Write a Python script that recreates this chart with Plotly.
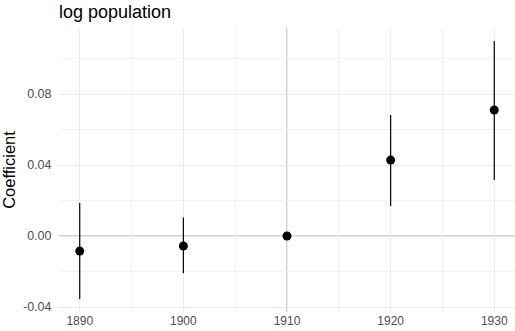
import plotly.graph_objects as go

years = [1890, 1900, 1910, 1920, 1930]
coef = [-0.0085, -0.0056, 0.0, 0.0428, 0.0710]
ci_low = [-0.0355, -0.0210, 0.0, 0.0169, 0.0315]
ci_high = [0.0186, 0.0105, 0.0, 0.0682, 0.1099]

x_ticks = [1890, 1900, 1910, 1920, 1930]
y_ticks = [-0.04, 0.00, 0.04, 0.08]
y_labels = ["-0.04", "0.00", "0.04", "0.08"]

font = "Liberation Sans"
grid = "#ebebeb"

fig = go.Figure()

fig.add_shape(type="line", xref="x", yref="paper", x0=1910, x1=1910, y0=0, y1=1,
              line=dict(color="#c2c2c2", width=1.5), layer="below")
fig.add_shape(type="line", xref="paper", yref="y", x0=0, x1=1, y0=0, y1=0,
              line=dict(color="#c2c2c2", width=1.5), layer="below")

fig.add_trace(go.Scatter(
    x=years, y=coef, mode="markers",
    marker=dict(color="black", size=9),
    error_y=dict(type="data", symmetric=False,
                 array=[h - c for h, c in zip(ci_high, coef)],
                 arrayminus=[c - l for c, l in zip(coef, ci_low)],
                 color="black", thickness=1.2, width=0),
    showlegend=False,
))

fig.update_layout(
    width=515, height=331,
    margin=dict(l=59, r=0, t=28, b=19, autoexpand=False),
    plot_bgcolor="white", paper_bgcolor="white",
    title=dict(text="log population", x=59/515, xanchor="left", y=1 - 12/331, yanchor="middle",
               font=dict(family=font, size=18, color="black")),
    font=dict(family=font, color="#4d4d4d"),
)
fig.update_xaxes(
    range=[1888, 1932], tickvals=x_ticks, ticktext=[str(v) for v in x_ticks],
    showgrid=True, gridcolor=grid, gridwidth=1, zeroline=False, showline=False,
    ticks="", ticklen=0, tickfont=dict(size=12, color="#4d4d4d"),
    minor=dict(tickvals=[1895, 1905, 1915, 1925], showgrid=True, gridcolor="#f2f2f2", gridwidth=1),
)
fig.update_yaxes(
    range=[-0.0428, 0.1172], tickvals=y_ticks, ticktext=y_labels,
    showgrid=True, gridcolor=grid, gridwidth=1, zeroline=False, showline=False,
    ticks="outside", ticklen=4, tickcolor="white", tickfont=dict(size=12.5, color="#4d4d4d"),
    title=dict(text="Coefficient", font=dict(size=16.5, color="black"), standoff=4),
    minor=dict(tickvals=[-0.02, 0.02, 0.06, 0.10], showgrid=True, gridcolor="#f2f2f2", gridwidth=1),
)

fig.write_html("out.html", config={"displayModeBar": False},
               post_script="document.body.style.margin='0';document.body.style.padding='0';")
